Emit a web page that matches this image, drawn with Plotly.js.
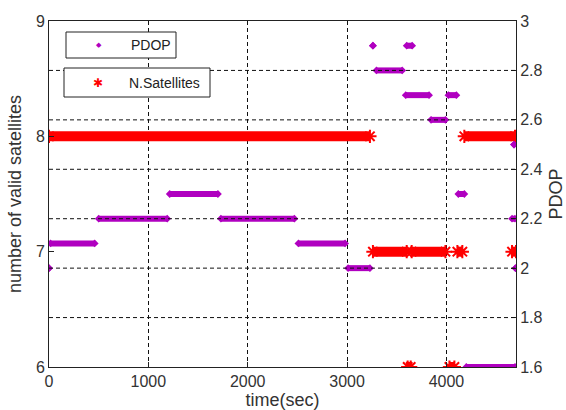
<!DOCTYPE html>
<html>
<head>
<meta charset="utf-8">
<script src="https://cdn.plot.ly/plotly-3.0.1.min.js"></script>
<style>html,body{margin:0;padding:0;background:#fff;}#chart{width:566px;height:410px;}</style>
</head>
<body>
<div id="chart"></div>
<script>
// N.Satellites: runs of constant value (time start, time end, number of satellites)
var satStart = [0,    3260, 3610, 3650, 4030, 4110, 4180, 4660];
var satEnd   = [3230, 3600, 3640, 3990, 4080, 4160, 4690, 4700];
var satValue = [8,    7,    6,    7,    6,    7,    8,    7];

// PDOP: runs of constant value (time start, time end, PDOP)
var pdopStart = [0,   15,  500,  1215, 1730, 2510, 3010, 3260, 3295, 3600, 3590, 3845, 4020, 4120, 4200, 4680, 4660, 4695];
var pdopEnd   = [0,   460, 1190, 1700, 2470, 2980, 3230, 3260, 3555, 3655, 3825, 3990, 4100, 4180, 4690, 4680, 4690, 4695];
var pdopValue = [2.0, 2.1, 2.2,  2.3,  2.2,  2.1,  2.0,  2.9,  2.8,  2.9,  2.7,  2.6,  2.7,  2.3,  1.6,  2.5,  2.2,  2.0];

var timeTicks = [0, 1000, 2000, 3000, 4000];
var satTicks = [6, 7, 8, 9];
var pdopTicks = [1.6, 1.8, 2.0, 2.2, 2.4, 2.6, 2.8, 3.0];

function runs(s, e, v) {
  var x = [], y = [];
  for (var i = 0; i < s.length; i++) { x.push(s[i], e[i], null); y.push(v[i], v[i], null); }
  return {x: x, y: y};
}
var sat = runs(satStart, satEnd, satValue);
var pd = runs(pdopStart, pdopEnd, pdopValue);

var RED = '#ff0000', PURP = '#b000c0';
var traces = [
  {x: sat.x, y: sat.y, type: 'scatter', mode: 'lines+markers', name: 'N.Satellites', showlegend: false,
   line: {color: RED, width: 10}, marker: {symbol: 'asterisk-open', size: 11, color: RED, line: {color: RED, width: 2}},
   yaxis: 'y', connectgaps: false, hoverinfo: 'x+y'},
  {x: pd.x, y: pd.y, type: 'scatter', mode: 'lines+markers', name: 'PDOP', showlegend: false,
   line: {color: PURP, width: 6}, marker: {symbol: 'diamond', size: 6, color: PURP},
   yaxis: 'y2', connectgaps: false, hoverinfo: 'x+y'}
];

var shapes = [];
// horizontal dashed grid of the PDOP axis, drawn over the data
pdopTicks.forEach(function (t) {
  if (t > 1.6 + 1e-9 && t < 3.0 - 1e-9) {
    shapes.push({type: 'line', xref: 'paper', x0: 0, x1: 1, yref: 'y2', y0: t, y1: t, layer: 'above',
      line: {color: '#111', width: 1, dash: '4px,3px'}});
  }
});
// legend boxes
shapes.push({type: 'rect', xref: 'paper', yref: 'paper', x0: (66-49)/467, x1: (176-49)/467, y0: (367-58)/346, y1: (367-32)/346,
  line: {color: '#222', width: 1}, fillcolor: '#fff', layer: 'above'});
shapes.push({type: 'rect', xref: 'paper', yref: 'paper', x0: (64-49)/467, x1: (210-49)/467, y0: (367-97)/346, y1: (367-68)/346,
  line: {color: '#222', width: 1}, fillcolor: '#fff', layer: 'above'});

var FONT = 'Liberation Sans, Arial, sans-serif';
var annotations = [
  {xref: 'paper', yref: 'paper', x: (99-49)/467, y: (367-45)/346, text: '◆', showarrow: false,
   font: {family: 'DejaVu Sans', size: 7, color: PURP}, xanchor: 'center', yanchor: 'middle'},
  {xref: 'paper', yref: 'paper', x: (129-49)/467, y: (367-45)/346, text: 'PDOP', showarrow: false,
   font: {family: FONT, size: 14, color: '#222'}, xanchor: 'left', yanchor: 'middle'},
  {xref: 'paper', yref: 'paper', x: (98-49)/467, y: (367-83)/346, text: '✱', showarrow: false,
   font: {family: 'DejaVu Sans', size: 12, color: RED}, xanchor: 'center', yanchor: 'middle'},
  {xref: 'paper', yref: 'paper', x: (127-49)/467, y: (367-83)/346, text: 'N.Satellites', showarrow: false,
   font: {family: FONT, size: 14, color: '#222'}, xanchor: 'left', yanchor: 'middle'}
];

var layout = {
  width: 566, height: 410,
  margin: {l: 49, r: 50, t: 21, b: 43, pad: 0},
  paper_bgcolor: '#fff', plot_bgcolor: '#fff',
  showlegend: false,
  font: {family: FONT, size: 16, color: '#333'},
  xaxis: {range: [0, 4700], tickvals: timeTicks, ticktext: timeTicks.map(String),
    showline: true, linecolor: '#222', linewidth: 1, mirror: true,
    ticks: 'inside', ticklen: 5, tickcolor: '#222',
    showgrid: true, gridcolor: '#111', gridwidth: 1, griddash: '4px,3px',
    zeroline: false, tickfont: {size: 16, color: '#333'},
    title: {text: 'time(sec)', standoff: 5, font: {size: 18, color: '#333'}}, automargin: false},
  yaxis: {range: [6, 9], tickvals: satTicks, ticktext: satTicks.map(String),
    showline: true, linecolor: '#222', linewidth: 1,
    ticks: 'inside', ticklen: 5, tickcolor: '#222', showgrid: false, zeroline: false,
    tickfont: {size: 16, color: '#333'},
    title: {text: 'number of valid satellites', standoff: 9, font: {size: 18, color: '#333'}}, automargin: false},
  yaxis2: {range: [1.6, 3], tickvals: pdopTicks, ticktext: pdopTicks.map(function (t) { return String(Math.round(t * 10) / 10); }),
    overlaying: 'y', side: 'right', showline: true, linecolor: '#222', linewidth: 1,
    ticks: 'inside', ticklen: 5, tickcolor: '#222', showgrid: false, zeroline: false,
    tickfont: {size: 16, color: '#333'},
    title: {text: 'PDOP', standoff: 9, font: {size: 18, color: '#333'}}, automargin: false},
  shapes: shapes,
  annotations: annotations
};

Plotly.newPlot('chart', traces, layout, {staticPlot: true, displayModeBar: false});
</script>
</body>
</html>
